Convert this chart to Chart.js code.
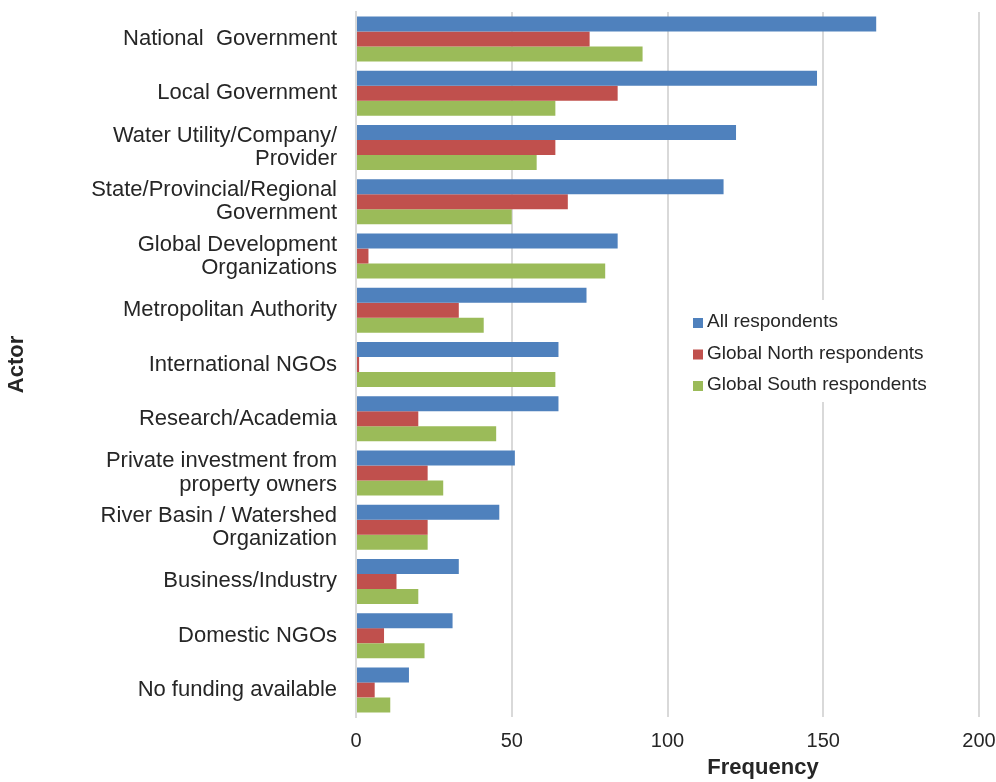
<!DOCTYPE html>
<html>
<head>
<meta charset="utf-8">
<script src="https://cdn.jsdelivr.net/npm/chart.js@4.4.1/dist/chart.umd.min.js"></script>
<style>
  html, body { margin: 0; padding: 0; background: #fff; }
  #wrap { width: 996px; height: 782px; }
</style>
</head>
<body>
<div id="wrap"><canvas id="actorChart" width="996" height="782"></canvas></div>
<script>
// categorie (asse y)
const actors = [
  'National  Government',
  'Local Government',
  ['Water Utility/Company/', 'Provider'],
  ['State/Provincial/Regional', 'Government'],
  ['Global Development', 'Organizations'],
  'Metropolitan Authority',
  'International NGOs',
  'Research/Academia',
  ['Private investment from', 'property owners'],
  ['River Basin / Watershed', 'Organization'],
  'Business/Industry',
  'Domestic NGOs',
  'No funding available'
];

// serie
const allRespondents   = [167, 148, 122, 118, 84, 74, 65, 65, 51, 46, 33, 31, 17];
const northRespondents = [75, 84, 64, 68, 4, 33, 1, 20, 23, 23, 13, 9, 6];
const southRespondents = [92, 64, 58, 50, 80, 41, 64, 45, 28, 23, 20, 22, 11];

const seriesNames = ['All respondents', 'Global North respondents', 'Global South respondents'];
const seriesColors = ['#4f81bd', '#c0504d', '#9bbb59'];

const xTicks = [0, 50, 100, 150, 200];

const FONT = "'Liberation Sans', Arial, Helvetica, sans-serif";
const TEXT = '#262626';

// legenda dentro il grafico + titolo asse x
const extrasPlugin = {
  id: 'extras',
  afterDraw(chart) {
    const ctx = chart.ctx;
    ctx.save();
    // sfondo bianco della legenda
    ctx.fillStyle = '#fff';
    ctx.fillRect(686, 300, 262, 102);
    ctx.font = '19px ' + FONT;
    ctx.textBaseline = 'middle';
    ctx.textAlign = 'left';
    seriesNames.forEach((name, i) => {
      const y = 322 + i * 31.5;
      ctx.fillStyle = seriesColors[i];
      ctx.fillRect(693, y - 4, 10, 10);
      ctx.fillStyle = TEXT;
      ctx.fillText(name, 707, y);
    });
    // titolo asse x
    ctx.font = 'bold 22px ' + FONT;
    ctx.textAlign = 'center';
    ctx.fillText('Frequency', 763, 768);
    ctx.restore();
  }
};

document.addEventListener('DOMContentLoaded', () => {
  const ctx = document.getElementById('actorChart').getContext('2d');
  const chart = new Chart(ctx, {
    type: 'bar',
    data: {
      labels: actors,
      datasets: [
        { label: seriesNames[0], data: allRespondents,   backgroundColor: seriesColors[0] },
        { label: seriesNames[1], data: northRespondents, backgroundColor: seriesColors[1] },
        { label: seriesNames[2], data: southRespondents, backgroundColor: seriesColors[2] }
      ]
    },
    options: {
      indexAxis: 'y',
      responsive: false,
      animation: false,
      datasets: { bar: { categoryPercentage: 0.83, barPercentage: 1.0 } },
      layout: { padding: { top: 12, right: 17, bottom: 0, left: 0 } },
      plugins: {
        legend: { display: false },
        tooltip: { enabled: false }
      },
      scales: {
        x: {
          min: 0,
          max: 200,
          afterBuildTicks: scale => { scale.ticks = xTicks.map(v => ({ value: v })); },
          afterFit: scale => { scale.height = 65; scale.paddingLeft = 0; scale.paddingRight = 0; },
          grid: { color: '#d9d9d9', lineWidth: 2, drawTicks: false },
          border: { display: false },
          ticks: { color: TEXT, font: { family: FONT, size: 20 }, padding: 12 }
        },
        y: {
          afterFit: scale => { scale.width = 356; scale.paddingTop = 0; scale.paddingBottom = 0; },
          grid: { display: false, drawTicks: false },
          border: { display: true, color: '#d9d9d9', width: 2 },
          ticks: { color: TEXT, font: { family: FONT, size: 22, lineHeight: 1.05 }, padding: 19, autoSkip: false },
          title: { display: true, text: 'Actor', color: TEXT, font: { family: FONT, size: 22, weight: 'bold' }, padding: { top: 4 } }
        }
      }
    },
    plugins: [extrasPlugin]
  });
});
</script>
</body>
</html>
